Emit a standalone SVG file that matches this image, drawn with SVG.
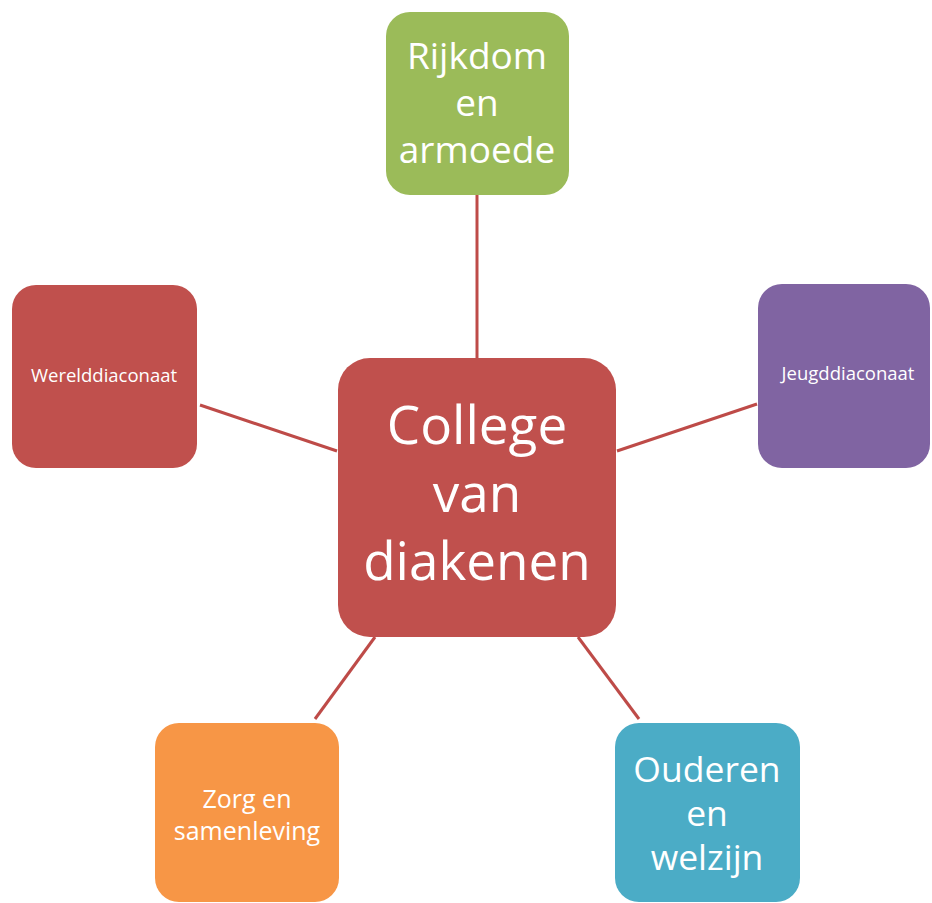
<svg xmlns="http://www.w3.org/2000/svg" width="932" height="903" viewBox="0 0 932 903">
<style>
.lbl{font-family:"Open Sans","Liberation Sans",sans-serif;fill:#ffffff;text-anchor:middle}
.conn line{stroke:#BE4B48;stroke-width:3;stroke-linecap:butt}
</style>
<rect width="932" height="903" fill="#ffffff"/>
<g id="connectors" class="conn">
<line x1="477" y1="195" x2="477" y2="358"/>
<line x1="200" y1="405" x2="337" y2="451"/>
<line x1="617" y1="451" x2="757" y2="404"/>
<line x1="375" y1="637" x2="315" y2="719"/>
<line x1="578" y1="637" x2="639" y2="719"/>
</g>
<g id="center">
<rect x="338" y="358" width="278" height="279" rx="32" fill="#C0504D"/>
<text class="lbl" font-size="53" x="477" y="444">College</text>
<text class="lbl" font-size="53" x="477" y="512">van</text>
<text class="lbl" font-size="53" x="477" y="580">diakenen</text>
</g>
<g id="rijkdom">
<rect x="386" y="12" width="183" height="183" rx="24" fill="#9BBB59"/>
<text class="lbl" font-size="37" x="477" y="69">Rijkdom</text>
<text class="lbl" font-size="37" x="477" y="116">en</text>
<text class="lbl" font-size="37" x="477" y="163">armoede</text>
</g>
<g id="wereld">
<rect x="12" y="285" width="185" height="183" rx="24" fill="#C0504D"/>
<text class="lbl" font-size="18.5" x="104" y="382">Werelddiaconaat</text>
</g>
<g id="jeugd">
<rect x="758" y="284" width="172" height="184" rx="24" fill="#8064A2"/>
<text class="lbl" font-size="18.5" x="848" y="380">Jeugddiaconaat</text>
</g>
<g id="zorg">
<rect x="155" y="723" width="184" height="179" rx="24" fill="#F79646"/>
<text class="lbl" font-size="25" x="247" y="808">Zorg en</text>
<text class="lbl" font-size="25" x="247" y="840">samenleving</text>
</g>
<g id="ouderen">
<rect x="615" y="723" width="185" height="179" rx="24" fill="#4BACC6"/>
<text class="lbl" font-size="35.5" x="707" y="782">Ouderen</text>
<text class="lbl" font-size="35.5" x="707" y="826">en</text>
<text class="lbl" font-size="35.5" x="707" y="870">welzijn</text>
</g>
</svg>
